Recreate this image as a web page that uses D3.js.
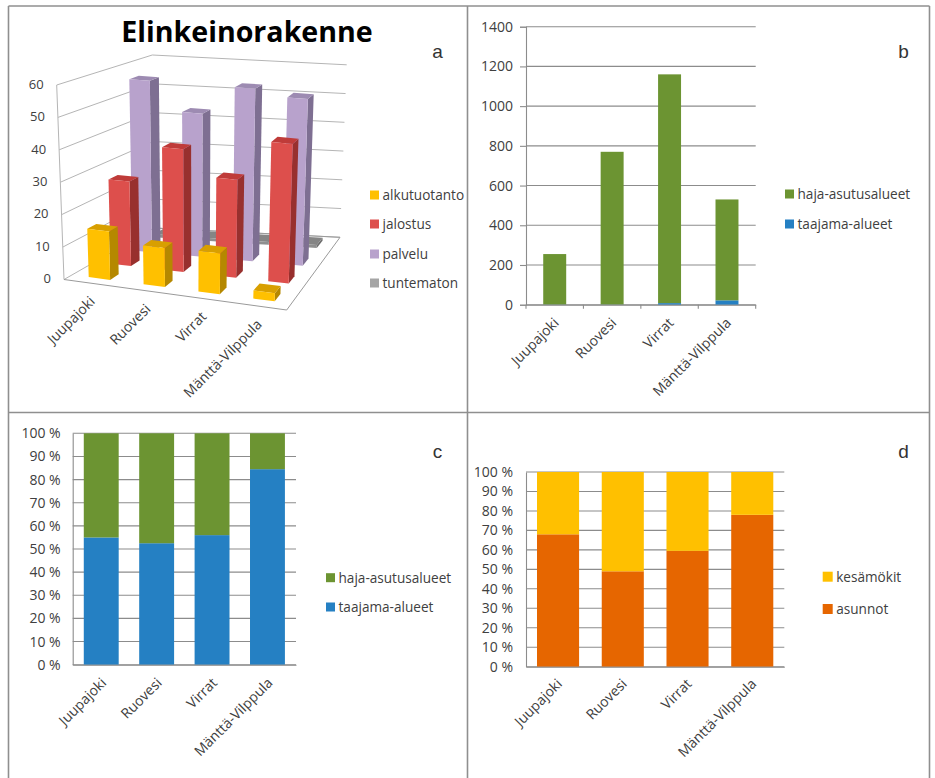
<!DOCTYPE html>
<html>
<head>
<meta charset="utf-8">
<script src="https://cdn.jsdelivr.net/npm/d3@7/dist/d3.min.js"></script>
<style>
html,body{margin:0;padding:0;background:#fff;overflow:hidden}
text{font-family:"Open Sans",sans-serif;fill:#404040}
</style>
</head>
<body>
<svg id="c" width="935" height="778"></svg>
<script>
// Municipalities shared by all four panels
const municipalities = ["Juupajoki", "Ruovesi", "Virrat", "Mänttä-Vilppula"];

// Panel a: employment by sector, percent
const sectorNames = ["alkutuotanto", "jalostus", "palvelu", "tuntematon"];
const sectorColors = ["#FFC000", "#DD4F4C", "#B8A2CC", "#8F8F8F"];
const sectorSides = ["#B58800", "#98302E", "#7E6F92", "#6E6E6E"];
const sectorTops = ["#D89F00", "#BF3B39", "#9D8BB2", "#858585"];
const legendColors = ["#FFC000", "#DD4F4C", "#B8A2CC", "#A5A5A5"];
const alkutuotanto = [15, 12, 12.5, 2.5];
const jalostus = [27, 39, 31, 44];
const palvelu = [56.5, 47, 56.5, 54.5];
const tuntematon = [1, 1, 1, 1];
const sectorTicks = [0, 10, 20, 30, 40, 50, 60];

// Panel b: dwellings by area type, count
const areaNames = ["haja-asutusalueet", "taajama-alueet"];
const areaColors = ["#6C9432", "#2580C3"];
const hajaCount = [254, 769, 1152, 508];
const taajamaCount = [1, 1, 8, 22];
const countTicks = [0, 200, 400, 600, 800, 1000, 1200, 1400];

// Panel c: share by area type, percent
const taajamaShare = [55, 52.5, 56, 84.5];
const hajaShare = [45, 47.5, 44, 15.5];

// Panel d: asunnot and kesämökit, percent
const buildingNames = ["kesämökit", "asunnot"];
const buildingColors = ["#FFC000", "#E66600"];
const asunnotShare = [68, 49, 59.5, 78];
const kesamokitShare = [32, 51, 40.5, 22];
const percentTicks = d3.range(0, 101, 10);

const svg = d3.select("#c");
const GRID = "#8c8c8c", EDGE = "#8c8c8c";

// Panel frame
const frame = svg.append("g").attr("fill", "none").attr("stroke", "#8f8f8f").attr("stroke-width", 1.6);
[[8.5,6,929.5,6],[8.5,412.5,929.5,412.5],[8.5,6,8.5,778],[467.5,6,467.5,778],[929.5,6,929.5,778]]
  .forEach(([x1,y1,x2,y2]) => frame.append("line").attr("x1",x1).attr("y1",y1).attr("x2",x2).attr("y2",y2));

function legend(items, colors, x, ys, size) {
  items.forEach((name, i) => {
    svg.append("rect").attr("x", x).attr("y", ys[i] - size / 2).attr("width", size).attr("height", size).attr("fill", colors[i]);
    svg.append("text").attr("x", x + size + 3.5).attr("y", ys[i]).attr("dy", "0.36em")
      .attr("font-size", 13.6).text(name);
  });
}

function panelLetter(t, x, y) {
  svg.append("text").attr("x", x).attr("y", y).attr("text-anchor", "middle")
    .attr("font-size", 19).style("font-family", "'Liberation Sans',sans-serif").style("fill", "#333").text(t);
}

// Stacked 2D column panel used for b, c and d
function stackedPanel(o) {
  const x = d3.scaleBand(municipalities, o.xRange).paddingInner(o.inner).paddingOuter(o.outer);
  const y = d3.scaleLinear([0, d3.max(o.ticks)], o.yRange);
  const g = svg.append("g");

  g.selectAll(".grid").data(o.ticks).join("line")
    .attr("x1", o.xRange[0]).attr("x2", o.xRange[1])
    .attr("y1", d => y(d)).attr("y2", d => y(d))
    .attr("stroke", GRID).attr("stroke-width", 1.1);

  const rows = municipalities.map((m, i) => {
    const r = { m };
    o.series.forEach(s => { r[s.name] = s.values[i]; });
    return r;
  });
  const stacked = d3.stack().keys(o.series.map(s => s.name))(rows);
  stacked.forEach((layer, k) => {
    g.append("g").attr("fill", o.series[k].color).selectAll("rect").data(layer).join("rect")
      .attr("x", d => x(d.data.m)).attr("width", x.bandwidth())
      .attr("y", d => y(d[1])).attr("height", d => y(d[0]) - y(d[1]));
  });

  const yAxis = d3.axisLeft(y).tickValues(o.ticks).tickSize(o.tick).tickPadding(o.pad).tickFormat(o.fmt);
  const ya = g.append("g").attr("transform", `translate(${o.xRange[0]},0)`).call(yAxis);
  ya.select(".domain").attr("stroke", EDGE).attr("stroke-width", 1.1);
  ya.selectAll("line").attr("stroke", EDGE).attr("stroke-width", 1.1);
  ya.selectAll("text").attr("font-size", o.tickFont).style("font-family", "'Open Sans',sans-serif").style("fill", "#404040");

  const xAxis = d3.axisBottom(x).tickSize(0).tickPadding(0);
  const xa = g.append("g").attr("transform", `translate(0,${o.yRange[0]})`).call(xAxis);
  xa.select(".domain").attr("stroke", EDGE).attr("stroke-width", 1.1);
  xa.selectAll("text").attr("font-size", 14).attr("text-anchor", "end").attr("dy", 0).attr("y", 0)
    .attr("transform", `translate(${o.labelDx},${o.labelDy}) rotate(-45)`)
    .style("font-family", "'Open Sans',sans-serif").style("fill", "#404040");

  if (o.xTicks) {
    const edges = d3.range(municipalities.length + 1).map(i => o.xRange[0] + (o.xRange[1] - o.xRange[0]) * i / municipalities.length);
    g.selectAll(".xt").data(edges).join("line")
      .attr("x1", d => d).attr("x2", d => d).attr("y1", o.yRange[0]).attr("y2", o.yRange[0] + 4)
      .attr("stroke", EDGE).attr("stroke-width", 1.1);
  }
}

stackedPanel({
  xRange: [526, 755.7], yRange: [304.7, 26.7], inner: 0.6, outer: 0.3, ticks: countTicks, tick: 6, pad: 7, tickFont: 14,
  fmt: d => d, xTicks: true, labelDx: 5, labelDy: 19,
  series: [{ name: "taajama-alueet", values: taajamaCount, color: areaColors[1] },
           { name: "haja-asutusalueet", values: hajaCount, color: areaColors[0] }]
});
stackedPanel({
  xRange: [72.7, 296], yRange: [664.7, 433.3], inner: 0.37, outer: 0.2, ticks: percentTicks, tick: 0, pad: 12, tickFont: 14,
  fmt: d => d + " %", labelDx: 6, labelDy: 19,
  series: [{ name: "taajama-alueet", values: taajamaShare, color: areaColors[1] },
           { name: "haja-asutusalueet", values: hajaShare, color: areaColors[0] }]
});
stackedPanel({
  xRange: [526, 784.3], yRange: [666.7, 472], inner: 0.35, outer: 0.17, ticks: percentTicks, tick: 0, pad: 13, tickFont: 14,
  fmt: d => d + " %", labelDx: 5, labelDy: 18,
  series: [{ name: "asunnot", values: asunnotShare, color: buildingColors[1] },
           { name: "kesämökit", values: kesamokitShare, color: buildingColors[0] }]
});

legend(areaNames, areaColors, 785, [194, 224], 9);
legend(areaNames, areaColors, 326, [577.7, 607], 9);
legend(buildingNames, buildingColors, 822.7, [576.7, 609], 10);
panelLetter("b", 903.5, 58);
panelLetter("c", 437.5, 458);
panelLetter("d", 903.5, 458);
panelLetter("a", 437.5, 58);

// Panel a: perspective column chart. Depth and width run over a floor quad,
// heights follow a vector that fans out slightly towards the back of the scene.
const floorQuad = { fl: [64, 279.5], fr: [286.7, 310], bl: [154, 228], br: [340, 237.3] };
const riseQuad = { fl: [-7.3, -194.5], fr: [6, -200], bl: [-1.7, -173], br: [6.7, -172.5] };
const bilerp = (q, u, v) => [0, 1].map(k =>
  (1 - v) * ((1 - u) * q.fl[k] + u * q.fr[k]) + v * ((1 - u) * q.bl[k] + u * q.br[k]));

const uScale = d3.scaleBand(municipalities, [0, 1]).paddingInner(0.61).paddingOuter(0.305);
const vScale = d3.scaleBand(sectorNames, [0.015, 1.015]).paddingInner(0.59).paddingOuter(0.295);
const hScale = d3.scaleLinear([0, 60], [0, 1]);
const project = (u, v, value) => {
  const f = bilerp(floorQuad, u, v), r = bilerp(riseQuad, u, v), t = hScale(value);
  return [f[0] + r[0] * t, f[1] + r[1] * t];
};
const poly = pts => "M" + pts.map(p => p.join(",")).join("L") + "Z";

const g3 = svg.append("g");
const wallLine = (a, b) => g3.append("line").attr("x1", a[0]).attr("y1", a[1]).attr("x2", b[0]).attr("y2", b[1])
  .attr("stroke", "#b5b5b5").attr("stroke-width", 1);
sectorTicks.forEach(t => {
  wallLine(project(0, 0, t), project(0, 1, t));
  wallLine(project(0, 1, t), project(1, 1, t));
});
wallLine(project(0, 0, 0), project(0, 0, 60));
[[project(0, 0, 0), project(1, 0, 0)], [project(1, 0, 0), project(1, 1, 0)], [project(1, 1, 0), project(0, 1, 0)]]
  .forEach(([a, b]) => wallLine(a, b).attr("stroke", "#9a9a9a"));

const sectorValues = [alkutuotanto, jalostus, palvelu, tuntematon];
d3.range(sectorNames.length - 1, -1, -1).forEach(s => {
  municipalities.forEach((m, i) => {
    const u0 = uScale(m), u1 = u0 + uScale.bandwidth();
    const v0 = vScale(sectorNames[s]), v1 = v0 + vScale.bandwidth();
    const val = sectorValues[s][i];
    g3.append("path").attr("fill", sectorSides[s])
      .attr("d", poly([project(u1, v0, 0), project(u1, v1, 0), project(u1, v1, val), project(u1, v0, val)]));
    g3.append("path").attr("fill", sectorTops[s])
      .attr("d", poly([project(u0, v0, val), project(u1, v0, val), project(u1, v1, val), project(u0, v1, val)]));
    g3.append("path").attr("fill", sectorColors[s])
      .attr("d", poly([project(u0, v0, 0), project(u1, v0, 0), project(u1, v0, val), project(u0, v0, val)]));
  });
});

sectorTicks.forEach(t => {
  const p = project(0, 0, t);
  svg.append("text").attr("x", p[0] - 13).attr("y", p[1] - 1).attr("dy", "0.36em").attr("text-anchor", "end")
    .attr("font-size", 13).text(t);
});
municipalities.forEach(m => {
  const p = project(uScale(m) + uScale.bandwidth() / 2, 0, 0);
  svg.append("text").attr("text-anchor", "end").attr("font-size", 14)
    .attr("transform", `translate(${p[0] + 4},${p[1] + 19}) rotate(-45)`).text(m);
});
legend(sectorNames, legendColors, 370, [195, 224, 254, 283], 9);

svg.append("text").attr("x", 247).attr("y", 42).attr("text-anchor", "middle")
  .attr("font-size", 28.6).attr("font-weight", 700)
  .style("fill", "#000").text("Elinkeinorakenne");
</script>
</body>
</html>
